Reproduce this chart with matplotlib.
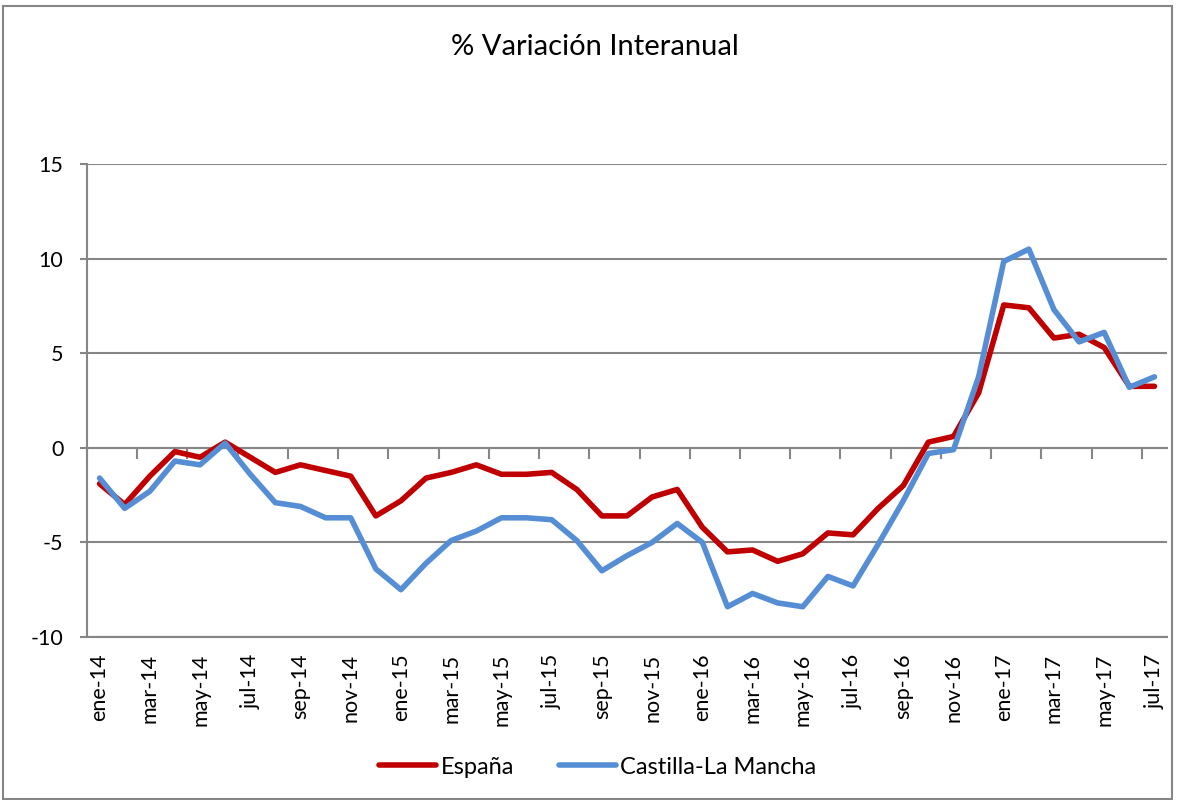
import matplotlib.pyplot as plt
from matplotlib.patches import Rectangle

plt.rcParams['font.family'] = ['Lato', 'DejaVu Sans']
plt.rcParams['axes.unicode_minus'] = False

months = ['ene', 'feb', 'mar', 'abr', 'may', 'jun', 'jul', 'ago', 'sep', 'oct', 'nov', 'dic']
labels = [f'{m}-{y}' for y in ['14', '15', '16', '17'] for m in months][:43]

espana = [-1.9, -3.0, -1.5, -0.2, -0.5, 0.3, -0.5, -1.3, -0.9, -1.2, -1.5, -3.6,
          -2.8, -1.6, -1.3, -0.9, -1.4, -1.4, -1.3, -2.2, -3.6, -3.6, -2.6, -2.2,
          -4.2, -5.5, -5.4, -6.0, -5.6, -4.5, -4.6, -3.2, -2.0, 0.3, 0.6, 2.9,
          7.55, 7.4, 5.8, 6.0, 5.3, 3.25, 3.25]
castilla = [-1.6, -3.2, -2.3, -0.7, -0.9, 0.25, -1.4, -2.9, -3.1, -3.7, -3.7, -6.4,
            -7.5, -6.1, -4.9, -4.4, -3.7, -3.7, -3.8, -4.9, -6.5, -5.7, -5.0, -4.0,
            -5.0, -8.4, -7.7, -8.2, -8.4, -6.8, -7.3, -5.1, -2.8, -0.3, -0.1, 3.75,
            9.85, 10.5, 7.3, 5.6, 6.1, 3.2, 3.75]

grey = '#868686'
fig = plt.figure(figsize=(11.77, 8.0), dpi=100)
ax = fig.add_axes([87 / 1177, 163 / 800, 1080 / 1177, 473 / 800])

x = list(range(len(labels)))
ax.plot(x, espana, color='#C00000', lw=4, label='España', solid_capstyle='round', zorder=3)
ax.plot(x, castilla, color='#558ED5', lw=4, label='Castilla-La Mancha', solid_capstyle='round', zorder=3)

ax.set_xlim(-0.5, len(labels) - 0.5)
ax.set_ylim(-10, 15)
ax.set_yticks(range(-10, 16, 5))
ax.yaxis.grid(True, color=grey, lw=1.5)
ax.set_axisbelow(True)
for s in ['top', 'right']:
    ax.spines[s].set_visible(False)
ax.spines['left'].set_color(grey)
ax.spines['left'].set_linewidth(1.5)
ax.spines['bottom'].set_color(grey)
ax.spines['bottom'].set_linewidth(1.5)
ax.tick_params(axis='y', length=5, width=1.5, color=grey, pad=12, labelsize=15.5)
ax.set_xticks(x[::2])
ax.set_xticklabels(labels[::2], rotation=90, va='top', ha='center')
ax.tick_params(axis='x', length=0, pad=12, labelsize=15.5)

# category axis crossing at zero, with tick marks between categories
sec = ax.secondary_xaxis(10 / 25)
sec.set_xticks([b - 0.5 for b in range(0, len(labels) + 1, 2)])
sec.tick_params(axis='x', direction='out', length=8, width=1.5, color=grey, labelbottom=False)
sec.spines['bottom'].set_color(grey)
sec.spines['bottom'].set_linewidth(1.5)

fig.text(0.5055, 1 - 47 / 800, '% Variación Interanual', ha='center', va='center', fontsize=21)
fig.legend(loc='center', bbox_to_anchor=(0.508, 0.041), ncol=2, frameon=False, fontsize=17,
           handlelength=2.4, columnspacing=1.9, handletextpad=0.2)

fig.add_artist(Rectangle((3 / 1177, 1 / 800), 1169 / 1177, 793 / 800, transform=fig.transFigure,
                         fill=False, edgecolor=grey, lw=1.5))

fig.savefig('out.png', dpi=100)
